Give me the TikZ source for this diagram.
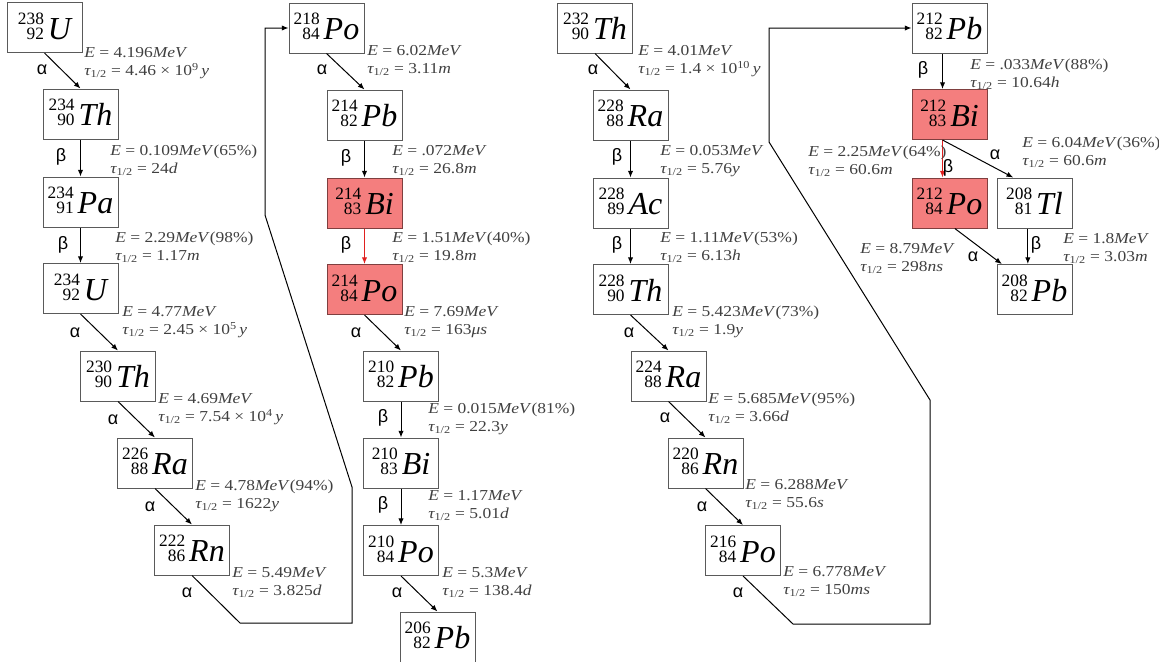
\documentclass[tikz,border=0pt]{standalone}
\usepackage{fontspec}
\setmainfont{Liberation Serif}
\newfontfamily\lblfam[FakeStretch=1.15]{Liberation Serif}
\newfontfamily\grkfam{Liberation Sans}
\usetikzlibrary{arrows.meta}
\definecolor{boxgray}{HTML}{5A5A5A}
\definecolor{hotred}{HTML}{F47E7E}
\definecolor{hotborder}{HTML}{7F3F3F}
\definecolor{lblgray}{HTML}{404040}
\definecolor{arrred}{HTML}{E0201F}
\newcommand\lblfont{\lblfam\fontsize{11.4}{13.9}\selectfont}
\newcommand\grk{\grkfam\fontsize{13.5}{16}\selectfont}
\newcommand\nuc[3]{{\fontsize{13}{15.6}\selectfont\begin{tabular}[b]{@{}r@{}}#1\\[-4.4pt]#2\end{tabular}}\hspace{3pt}{\fontsize{24}{28}\selectfont\itshape #3}}
\newcommand\lab[2]{\begin{tabular}[t]{@{}l@{}}\textit{E} = #1\\{\itshape τ}\textsubscript{1/2} = #2\end{tabular}}
\newcommand\mev{\textit{MeV}}
\begin{document}
\begin{tikzpicture}[x=0.75pt,y=-0.75pt,
  nucbox/.style={draw=boxgray, line width=0.75pt, fill=white, minimum width=56.25pt, minimum height=37.5pt, inner sep=0pt},
  hotbox/.style={nucbox, fill=hotred, draw=hotborder},
  lbl/.style={anchor=base west, inner sep=0pt, text=lblgray, font=\lblfont},
  dk/.style={font=\grk, inner sep=0pt},
  arr/.style={line width=0.75pt, -{Latex[length=5pt,width=4pt]}},
  redarr/.style={arr, draw=arrred, -{Latex[length=5pt,width=4pt,color=arrred]}}]
\useasboundingbox (0,0) rectangle (1159,661);
% ---------- uranium series ----------
\node[nucbox] (U238) at (44.5,27.5) {\nuc{238}{92}{U}};
\node[nucbox] (Th234) at (80.5,114) {\nuc{234}{90}{Th}};
\node[nucbox] (Pa234) at (80.5,202) {\nuc{234}{91}{Pa}};
\node[nucbox] (U234) at (80.5,288.5) {\nuc{234}{92}{U}};
\node[nucbox] (Th230) at (118,376) {\nuc{230}{90}{Th}};
\node[nucbox] (Ra226) at (155,463) {\nuc{226}{88}{Ra}};
\node[nucbox] (Rn222) at (192,550) {\nuc{222}{86}{Rn}};
\node[nucbox] (Po218) at (326.5,28) {\nuc{218}{84}{Po}};
\node[nucbox] (Pb214) at (364.5,115) {\nuc{214}{82}{Pb}};
\node[hotbox] (Bi214) at (364.5,203) {\nuc{214}{83}{Bi}};
\node[hotbox] (Po214) at (364.5,289.5) {\nuc{214}{84}{Po}};
\node[nucbox] (Pb210) at (401,376) {\nuc{210}{82}{Pb}};
\node[nucbox] (Bi210) at (401,463) {\nuc{210}{83}{Bi}};
\node[nucbox] (Po210) at (401,550.5) {\nuc{210}{84}{Po}};
\node[nucbox] (Pb206) at (437.5,637) {\nuc{206}{82}{Pb}};
% ---------- thorium series ----------
\node[nucbox] (Th232) at (595,28) {\nuc{232}{90}{Th}};
\node[nucbox] (Ra228) at (630.5,115) {\nuc{228}{88}{Ra}};
\node[nucbox] (Ac228) at (630.5,203) {\nuc{228}{89}{Ac}};
\node[nucbox] (Th228) at (630.5,289.5) {\nuc{228}{90}{Th}};
\node[nucbox] (Ra224) at (668.5,376) {\nuc{224}{88}{Ra}};
\node[nucbox] (Rn220) at (705.5,463) {\nuc{220}{86}{Rn}};
\node[nucbox] (Po216) at (743,550.5) {\nuc{216}{84}{Po}};
\node[nucbox] (Pb212) at (949.5,28) {\nuc{212}{82}{Pb}};
\node[hotbox] (Bi212) at (949.5,114.5) {\nuc{212}{83}{Bi}};
\node[hotbox] (Po212) at (949.5,203) {\nuc{212}{84}{Po}};
\node[nucbox] (Tl208) at (1034.5,203) {\nuc{208}{81}{Tl}};
\node[nucbox] (Pb208) at (1034.5,289.5) {\nuc{208}{82}{Pb}};
% ---------- connectors ----------
\draw[arr] (U238.south) -- (Th234.north);
\draw[arr] (Th234.south) -- (Pa234.north);
\draw[arr] (Pa234.south) -- (U234.north);
\draw[arr] (U234.south) -- (Th230.north);
\draw[arr] (Th230.south) -- (Ra226.north);
\draw[arr] (Ra226.south) -- (Rn222.north);
\coordinate (c1) at (240,623);
\coordinate (c2) at (352,623);
\coordinate (c3) at (352,487);
\coordinate (c4) at (265,215);
\coordinate (c5) at (265,28);
\draw[arr] (Rn222.south) -- (c1) -- (c2) -- (c3) -- (c4) -- (c5) -- (Po218.west);
\draw[arr] (Po218.south) -- (Pb214.north);
\draw[arr] (Pb214.south) -- (Bi214.north);
\draw[redarr] (Bi214.south) -- (Po214.north);
\draw[arr] (Po214.south) -- (Pb210.north);
\draw[arr] (Pb210.south) -- (Bi210.north);
\draw[arr] (Bi210.south) -- (Po210.north);
\draw[arr] (Po210.south) -- (Pb206.north);
\draw[arr] (Th232.south) -- (Ra228.north);
\draw[arr] (Ra228.south) -- (Ac228.north);
\draw[arr] (Ac228.south) -- (Th228.north);
\draw[arr] (Th228.south) -- (Ra224.north);
\draw[arr] (Ra224.south) -- (Rn220.north);
\draw[arr] (Rn220.south) -- (Po216.north);
\coordinate (d1) at (793,624);
\coordinate (d2) at (930,624);
\coordinate (d3) at (930,400);
\coordinate (d4) at (769,142);
\coordinate (d5) at (769,28);
\draw[arr] (Po216.south) -- (d1) -- (d2) -- (d3) -- (d4) -- (d5) -- (Pb212.west);
\draw[arr] ([xshift=-5.25pt]Pb212.south) -- ([xshift=-5.25pt]Bi212.north);
\draw[redarr] ([xshift=-5.25pt]Bi212.south) -- ([xshift=-5.25pt]Po212.north);
\draw[arr] ([xshift=-5.25pt]Bi212.south) -- ([xshift=-16pt]Tl208.north);
\draw[arr] ([xshift=4pt]Po212.south) -- ([xshift=4pt]Pb208.north west);
\draw[arr] ([xshift=-5pt]Tl208.south) -- ([xshift=-5pt]Pb208.north);
% ---------- decay labels ----------
\node[dk] (a1) at (42,70) {α};
\node[dk] (b2) at (61,157) {β};
\node[dk] (b3) at (63,245) {β};
\node[dk] (a4) at (75,333) {α};
\node[dk] (a5) at (113,420) {α};
\node[dk] (a6) at (150,507) {α};
\node[dk] (a7) at (187,593) {α};
\node[dk] (a8) at (322,70) {α};
\node[dk] (b9) at (346,158) {β};
\node[dk] (b10) at (346,245) {β};
\node[dk] (a11) at (356,333) {α};
\node[dk] (b12) at (383,418) {β};
\node[dk] (b13) at (383,505) {β};
\node[dk] (a14) at (397,593) {α};
\node[dk] (a15) at (593,70) {α};
\node[dk] (b16) at (617,157) {β};
\node[dk] (b17) at (617,245) {β};
\node[dk] (a18) at (629,333) {α};
\node[dk] (a19) at (665,418) {α};
\node[dk] (a20) at (702,507) {α};
\node[dk] (a21) at (738,593) {α};
\node[dk] (b22) at (923,70) {β};
\node[dk] (b23) at (948,168) {β};
\node[dk] (a24) at (995,155) {α};
\node[dk] (a25) at (973,257) {α};
\node[dk] (b26) at (1036,245) {β};
% ---------- energy / half-life labels ----------
\node[lbl] (l1) at (84,57) {\lab{4.196\mev}{4.46 × 10\textsuperscript{9}\,\textit{y}}};
\node[lbl] (l2) at (110,155) {\lab{0.109\mev(65\%)}{24\textit{d}}};
\node[lbl] (l3) at (115,242) {\lab{2.29\mev(98\%)}{1.17\textit{m}}};
\node[lbl] (l4) at (122,316) {\lab{4.77\mev}{2.45 × 10\textsuperscript{5}\,\textit{y}}};
\node[lbl] (l5) at (158,403) {\lab{4.69\mev}{7.54 × 10\textsuperscript{4}\,\textit{y}}};
\node[lbl] (l6) at (195,490) {\lab{4.78\mev(94\%)}{1622\textit{y}}};
\node[lbl] (l7) at (232,577) {\lab{5.49\mev}{3.825\textit{d}}};
\node[lbl] (l8) at (367,55) {\lab{6.02\mev}{3.11\textit{m}}};
\node[lbl] (l9) at (392,155) {\lab{.072\mev}{26.8\textit{m}}};
\node[lbl] (l10) at (392,242) {\lab{1.51\mev(40\%)}{19.8\textit{m}}};
\node[lbl] (l11) at (404,316) {\lab{7.69\mev}{163\textit{μs}}};
\node[lbl] (l12) at (428,413) {\lab{0.015\mev(81\%)}{22.3\textit{y}}};
\node[lbl] (l13) at (428,500) {\lab{1.17\mev}{5.01\textit{d}}};
\node[lbl] (l14) at (442,577) {\lab{5.3\mev}{138.4\textit{d}}};
\node[lbl] (l15) at (638,55) {\lab{4.01\mev}{1.4 × 10\textsuperscript{10}\,\textit{y}}};
\node[lbl] (l16) at (660,155) {\lab{0.053\mev}{5.76\textit{y}}};
\node[lbl] (l17) at (660,242) {\lab{1.11\mev(53\%)}{6.13\textit{h}}};
\node[lbl] (l18) at (672,316) {\lab{5.423\mev(73\%)}{1.9\textit{y}}};
\node[lbl] (l19) at (708,403) {\lab{5.685\mev(95\%)}{3.66\textit{d}}};
\node[lbl] (l20) at (745,489) {\lab{6.288\mev}{55.6\textit{s}}};
\node[lbl] (l21) at (783,576) {\lab{6.778\mev}{150\textit{ms}}};
\node[lbl] (l22) at (970,69) {\lab{.033\mev(88\%)}{10.64\textit{h}}};
\node[lbl] (l23) at (808,156) {\lab{2.25\mev(64\%)}{60.6\textit{m}}};
\node[lbl] (l24) at (1022,147) {\lab{6.04\mev(36\%)}{60.6\textit{m}}};
\node[lbl] (l25) at (860,253) {\lab{8.79\mev}{298\textit{ns}}};
\node[lbl] (l26) at (1063,243) {\lab{1.8\mev}{3.03\textit{m}}};
\end{tikzpicture}
\end{document}
